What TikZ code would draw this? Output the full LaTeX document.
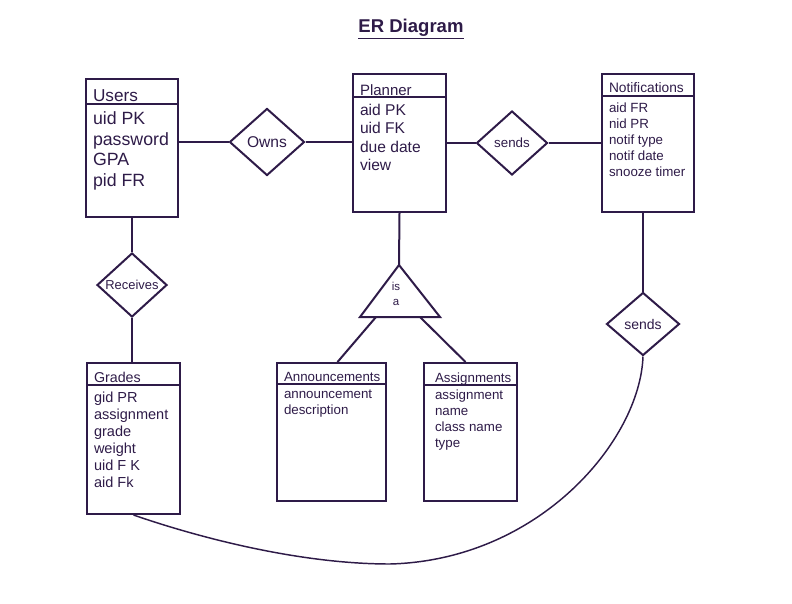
\documentclass[tikz,border=0pt]{standalone}
\usepackage{fontspec}
\setmainfont{Liberation Sans}
\usetikzlibrary{calc}
\usetikzlibrary{shapes.geometric}
\definecolor{erline}{RGB}{46,27,72}

\begin{document}
\begin{tikzpicture}[x=0.75pt, y=-0.75pt, line width=1.5pt, color=erline,
    ent/.style={draw, rectangle, inner sep=0pt},
    rel/.style={draw, diamond, inner sep=0pt},
    ttl/.style={anchor=north west, inner sep=0pt},
    attr/.style={anchor=north west, inner sep=0pt, align=left}]
  \useasboundingbox (0,0) rectangle (792,603);

  \node[anchor=base, inner sep=0pt, font=\fontsize{13.9}{16}\selectfont\bfseries] (title) at (411,32) {\underline{ER Diagram}};

  % entities
  \node[ent, minimum width=69pt, minimum height=103.5pt] (users) at (132,148) {};
  \draw ($(users.north west)+(0,26)$) -- ($(users.north east)+(0,26)$);
  \node[ttl, font=\fontsize{12.9}{15}\selectfont] (usersT) at (92,89) {Users};
  \node[attr, font=\fontsize{13.3}{15.4}\selectfont] (usersA) at (92,111) {uid PK\\password\\GPA\\pid FR};

  \node[ent, minimum width=69.75pt, minimum height=103.5pt] (planner) at (399.5,143) {};
  \draw ($(planner.north west)+(0,24)$) -- ($(planner.north east)+(0,24)$);
  \node[ttl, font=\fontsize{11.25}{13}\selectfont] (plannerT) at (359,84) {Planner};
  \node[attr, font=\fontsize{11.7}{13.9}\selectfont] (plannerA) at (359,103) {aid PK\\uid FK\\due date\\view};

  \node[ent, minimum width=69pt, minimum height=103.5pt] (notif) at (648,143) {};
  \draw ($(notif.north west)+(0,23)$) -- ($(notif.north east)+(0,23)$);
  \node[ttl, font=\fontsize{10.3}{12}\selectfont] (notifT) at (608,82) {Notifications};
  \node[attr, font=\fontsize{10}{12}\selectfont] (notifA) at (608,102) {aid FR\\nid PR\\notif type\\notif date\\snooze timer};

  \node[ent, minimum width=69.75pt, minimum height=113.25pt] (grades) at (133.5,438.5) {};
  \draw ($(grades.north west)+(0,23)$) -- ($(grades.north east)+(0,23)$);
  \node[ttl, font=\fontsize{10.7}{12.5}\selectfont] (gradesT) at (93,371.5) {Grades};
  \node[attr, font=\fontsize{10.9}{12.75}\selectfont] (gradesA) at (93,391) {gid PR\\assignment\\grade\\weight\\uid F K\\aid Fk};

  \node[ent, minimum width=81.75pt, minimum height=103.5pt] (announce) at (331.5,432) {};
  \draw ($(announce.north west)+(0,22)$) -- ($(announce.north east)+(0,22)$);
  \node[ttl, font=\fontsize{10}{12}\selectfont] (announceT) at (283,371.5) {Announcements};
  \node[attr, font=\fontsize{10}{11.8}\selectfont] (announceA) at (283,389) {announcement\\description};

  \node[ent, minimum width=69.75pt, minimum height=103.5pt] (assign) at (470.5,432) {};
  \draw ($(assign.north west)+(0,23)$) -- ($(assign.north east)+(0,23)$);
  \node[ttl, font=\fontsize{10}{12}\selectfont] (assignT) at (434,371.5) {Assignments};
  \node[attr, font=\fontsize{10}{12}\selectfont] (assignA) at (434,389) {assignment\\name\\class name\\type};

  % relationships
  \node[rel, minimum width=56.25pt, minimum height=50.25pt, font=\fontsize{11.7}{14}\selectfont] (owns) at (267,142) {Owns};
  \node[rel, minimum width=52.5pt, minimum height=48pt, font=\fontsize{9.7}{11}\selectfont] (receives) at (132,285) {Receives};
  \node[rel, minimum width=53.25pt, minimum height=48pt, font=\fontsize{10}{12}\selectfont] (sendsP) at (512,143) {sends};
  \node[rel, minimum width=54.75pt, minimum height=47.25pt, font=\fontsize{10.5}{12}\selectfont] (sendsN) at (643,324) {sends};

  % is a
  \node[inner sep=0pt, align=center, font=\fontsize{8.6}{11.25}\selectfont] (isa) at (396,294) {is\\a};
  \coordinate (isaTop) at (399,265);
  \coordinate (isaL) at (360,317);
  \coordinate (isaR) at (440,317);
  \coordinate (isaBL) at (376,317);
  \coordinate (isaBR) at (420,317);
  \draw[line join=miter] (isaTop) -- (isaL) -- (isaR) -- cycle;

  % connectors
  \draw (users.east |- owns.west) -- (owns.west);
  \draw (owns.east) -- (owns.east -| planner.west);
  \draw (planner.east |- sendsP.west) -- (sendsP.west);
  \draw (sendsP.east) -- (sendsP.east -| notif.west);
  \draw (users.south) -- (receives.north);
  \draw (receives.south) -- (receives.south |- grades.north);
  \draw (planner.south) -- (isaTop);
  \draw (isaBL) -- ($(announce.north)+(6,0)$);
  \draw (isaBR) -- ($(assign.north)+(-5,0)$);
  \draw (notif.south -| sendsN.north) -- (sendsN.north);
  \draw[line width=1.1pt] (sendsN.south) .. controls (640,440) and (540,560) .. (390,564)
    .. controls (300,564) and (200,538) .. (grades.south);
\end{tikzpicture}
\end{document}
